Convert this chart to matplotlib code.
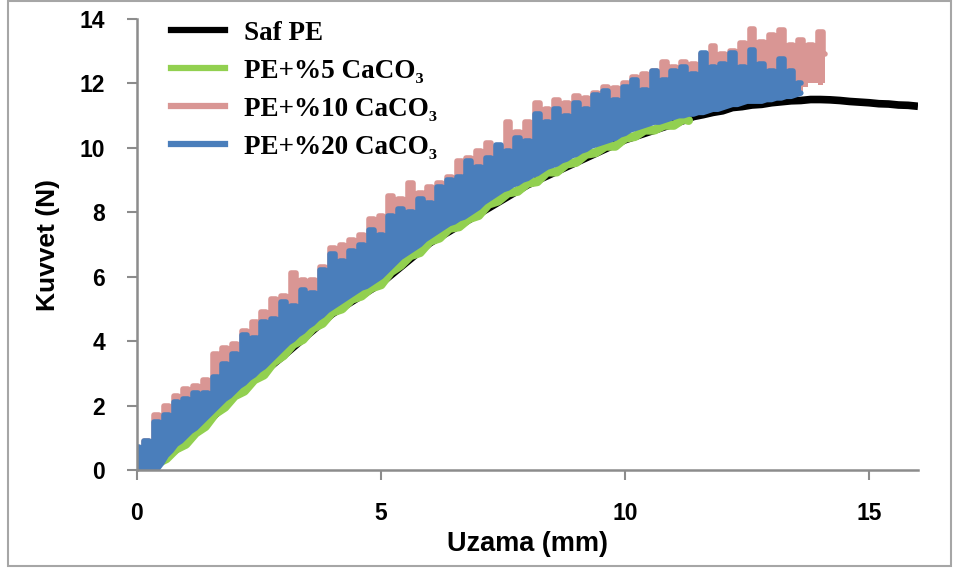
import matplotlib
matplotlib.use("Agg")
import matplotlib.pyplot as plt
from matplotlib.lines import Line2D
from matplotlib.patches import Rectangle

plt.rcParams['font.family'] = ['Liberation Sans', 'DejaVu Sans']

# Force-elongation readings taken off the curves (Uzama in mm, Kuvvet in N)

# Saf PE: only the tail past 11.3 mm shows, the rest runs under the green curve
saf_x = [0.2, 1.0, 2.0, 3.0, 4.0, 5.0, 6.0, 7.0, 8.0, 9.0, 10.0, 10.8, 11.2,
         11.4, 11.6, 11.8, 12.0, 12.2, 12.4, 12.6, 12.8, 13.0, 13.2, 13.4, 13.6,
         13.8, 14.0, 14.2, 14.4, 14.6, 14.8, 15.0, 15.2, 15.4, 15.6, 15.8, 16.0]
saf_y = [0.0, 0.85, 2.3, 3.55, 4.85, 5.8, 7.05, 7.95, 8.85, 9.55, 10.25, 10.65, 10.85,
         10.97, 11.03, 11.1, 11.15, 11.25, 11.28, 11.33, 11.35, 11.4, 11.43, 11.46, 11.47,
         11.5, 11.5, 11.49, 11.47, 11.44, 11.42, 11.4, 11.37, 11.36, 11.33, 11.32, 11.29]

# PE + %5 CaCO3
pe5_x = [0.2, 0.4, 0.6, 0.8, 1.0, 1.2, 1.4, 1.6, 1.8, 2.0, 2.2, 2.4, 2.6, 2.8, 3.0,
         3.2, 3.4, 3.6, 3.8, 4.0, 4.2, 4.4, 4.6, 4.8, 5.0, 5.2, 5.4, 5.6, 5.8, 6.0,
         6.2, 6.4, 6.6, 6.8, 7.0, 7.2, 7.4, 7.6, 7.8, 8.0, 8.2, 8.4, 8.6, 8.8, 9.0,
         9.2, 9.4, 9.6, 9.8, 10.0, 10.2, 10.4, 10.6, 10.8, 11.0, 11.2, 11.3]
pe5_y = [0.0, 0.2, 0.35, 0.65, 0.8, 1.15, 1.35, 1.75, 1.95, 2.3, 2.45, 2.8, 2.95, 3.35, 3.55,
         3.9, 4.05, 4.4, 4.55, 4.9, 5.0, 5.3, 5.4, 5.65, 5.75, 6.15, 6.35, 6.65, 6.75, 7.1,
         7.2, 7.5, 7.55, 7.8, 7.9, 8.25, 8.35, 8.6, 8.65, 8.9, 8.95, 9.25, 9.25, 9.5, 9.55,
         9.8, 9.85, 10.05, 10.05, 10.3, 10.35, 10.55, 10.55, 10.7, 10.7, 10.9, 10.85]

# sampling positions of the two noisy records (one row = 1 mm)
strain_x = [0.0, 0.1, 0.2, 0.3, 0.4, 0.5, 0.6, 0.7, 0.8, 0.9,
            1.0, 1.1, 1.2, 1.3, 1.4, 1.5, 1.6, 1.7, 1.8, 1.9,
            2.0, 2.1, 2.2, 2.3, 2.4, 2.5, 2.6, 2.7, 2.8, 2.9,
            3.0, 3.1, 3.2, 3.3, 3.4, 3.5, 3.6, 3.7, 3.8, 3.9,
            4.0, 4.1, 4.2, 4.3, 4.4, 4.5, 4.6, 4.7, 4.8, 4.9,
            5.0, 5.1, 5.2, 5.3, 5.4, 5.5, 5.6, 5.7, 5.8, 5.9,
            6.0, 6.1, 6.2, 6.3, 6.4, 6.5, 6.6, 6.7, 6.8, 6.9,
            7.0, 7.1, 7.2, 7.3, 7.4, 7.5, 7.6, 7.7, 7.8, 7.9,
            8.0, 8.1, 8.2, 8.3, 8.4, 8.5, 8.6, 8.7, 8.8, 8.9,
            9.0, 9.1, 9.2, 9.3, 9.4, 9.5, 9.6, 9.7, 9.8, 9.9,
            10.0, 10.1, 10.2, 10.3, 10.4, 10.5, 10.6, 10.7, 10.8, 10.9,
            11.0, 11.1, 11.2, 11.3, 11.4, 11.5, 11.6, 11.7, 11.8, 11.9,
            12.0, 12.1, 12.2, 12.3, 12.4, 12.5, 12.6, 12.7, 12.8, 12.9,
            13.0, 13.1, 13.2, 13.3, 13.4, 13.5, 13.6, 13.7, 13.8, 13.9,
            14.0, 14.1]

# PE + %20 CaCO3 (0.0 - 13.6 mm): upper (spiky) and lower edge of the trace
pe20_x = strain_x[:137]
pe20_top = [0.7, 0.1, 0.9, 0.6, 1.5, 0.5, 1.7, 1.4, 2.1, 1.85,
            2.2, 1.95, 2.4, 2.15, 2.4, 2.15, 2.9, 2.65, 3.3, 3.05,
            3.6, 3.35, 4.2, 3.85, 4.1, 3.85, 4.6, 4.35, 4.7, 4.45,
            5.2, 4.85, 5.1, 4.85, 5.6, 5.25, 5.5, 5.25, 6.2, 5.95,
            6.7, 6.25, 6.5, 6.25, 6.8, 6.55, 7.0, 6.75, 7.45, 7.05,
            7.3, 7.05, 7.9, 7.65, 8.1, 7.75, 8.0, 7.75, 8.4, 8.05,
            8.3, 8.05, 8.8, 8.55, 9.0, 8.75, 9.1, 8.85, 9.6, 9.15,
            9.4, 9.15, 9.7, 9.45, 10.1, 9.65, 9.9, 9.65, 10.3, 9.95,
            10.2, 9.9, 11.05, 10.55, 10.8, 10.55, 11.2, 10.75, 11.0, 10.75,
            11.4, 10.95, 11.2, 10.95, 11.65, 11.4, 11.75, 11.25, 11.5, 11.25,
            11.9, 11.65, 12.1, 11.55, 11.8, 11.55, 12.4, 11.85, 12.1, 11.85,
            12.4, 12.15, 12.5, 12.05, 12.3, 12.05, 12.95, 12.25, 12.5, 12.25,
            12.6, 12.35, 12.95, 12.25, 12.5, 12.25, 13.05, 12.35, 12.6, 12.15,
            12.4, 12.15, 12.75, 12.15, 12.4, 11.95, 12.0]
pe20_bot = [0.0, 0.0, 0.0, 0.0, 0.0, 0.2, 0.45, 0.6, 0.8, 0.9,
            1.05, 1.2, 1.3, 1.45, 1.6, 1.75, 1.9, 2.05, 2.2, 2.3,
            2.45, 2.6, 2.7, 2.85, 2.95, 3.1, 3.2, 3.35, 3.5, 3.65,
            3.8, 3.95, 4.05, 4.2, 4.3, 4.45, 4.55, 4.7, 4.8, 4.95,
            5.05, 5.15, 5.25, 5.35, 5.45, 5.55, 5.65, 5.7, 5.8, 5.9,
            6.0, 6.15, 6.3, 6.45, 6.6, 6.7, 6.8, 6.9, 7.0, 7.15,
            7.25, 7.35, 7.45, 7.55, 7.65, 7.7, 7.8, 7.85, 7.95, 8.05,
            8.15, 8.3, 8.4, 8.5, 8.6, 8.7, 8.75, 8.85, 8.9, 9.0,
            9.05, 9.15, 9.2, 9.3, 9.4, 9.45, 9.5, 9.6, 9.65, 9.75,
            9.8, 9.9, 9.95, 10.05, 10.1, 10.15, 10.2, 10.25, 10.3, 10.4,
            10.45, 10.55, 10.6, 10.65, 10.7, 10.75, 10.8, 10.8, 10.85, 10.9,
            10.95, 11.0, 11.0, 11.05, 11.05, 11.1, 11.1, 11.15, 11.2, 11.2,
            11.25, 11.3, 11.35, 11.35, 11.4, 11.45, 11.45, 11.45, 11.45, 11.5,
            11.5, 11.55, 11.55, 11.6, 11.6, 11.65, 11.7]

# PE + %10 CaCO3 (0.0 - 14.1 mm); its lower edge lies under the %20 trace
# up to 13.6 mm, only the last few readings of it are visible
pe10_x = strain_x
pe10_top = [0.5, 0.05, 0.9, 0.55, 1.7, 0.45, 2.0, 1.35, 2.3, 1.8,
            2.5, 1.9, 2.6, 2.1, 2.8, 2.1, 3.6, 2.6, 3.8, 3.0,
            3.9, 3.3, 4.3, 3.8, 4.6, 3.8, 4.9, 4.3, 5.3, 4.4,
            5.4, 4.8, 6.1, 4.8, 5.9, 5.2, 5.9, 5.2, 6.3, 5.9,
            6.9, 6.2, 7.0, 6.2, 7.15, 6.5, 7.3, 6.7, 7.8, 7.0,
            7.9, 7.0, 8.5, 7.6, 8.4, 7.7, 8.9, 7.7, 8.6, 8.0,
            8.8, 8.0, 8.9, 8.5, 9.1, 8.7, 9.6, 8.8, 9.7, 9.1,
            9.9, 9.1, 10.15, 9.4, 10.0, 9.6, 10.8, 9.6, 10.5, 9.9,
            10.8, 9.85, 11.4, 10.5, 11.2, 10.5, 11.5, 10.7, 11.4, 10.7,
            11.6, 10.9, 11.55, 10.9, 11.7, 11.35, 11.9, 11.2, 11.85, 11.2,
            12.0, 11.6, 12.2, 11.5, 12.3, 11.5, 12.4, 11.8, 12.65, 11.8,
            12.5, 12.1, 12.65, 12.0, 12.6, 12.0, 12.9, 12.2, 13.15, 12.2,
            12.9, 12.3, 13.0, 12.2, 13.25, 12.2, 13.7, 12.3, 13.3, 12.1,
            13.5, 12.1, 13.65, 12.1, 13.2, 11.9, 13.35, 13.0, 13.2, 12.95,
            13.6, 12.9]
pe10_tail_bot = [11.9, 12.0, 12.0, 11.95, 12.0]
pe10_bot = pe20_bot + pe10_tail_bot

series_labels = ['Saf PE', 'PE+%5 CaCO₃', 'PE+%10 CaCO₃', 'PE+%20 CaCO₃']
series_colors = ['#000000', '#92D050', '#D99694', '#4A7EBB']

x_ticks = [0, 5, 10, 15]
y_ticks = [0, 2, 4, 6, 8, 10, 12, 14]
axis_gray = '#8C8C8C'


def draw_noisy(ax, x, bot, top, color, z, edge_lw):
    """Trace that jumps up and down so fast it reads as a band with spikes."""
    ax.fill_between(x, bot, top, step='mid', color=color, lw=0, zorder=z)
    ax.plot(x, top, drawstyle='steps-mid', color=color, lw=4, zorder=z,
            solid_joinstyle='round', solid_capstyle='round')
    if edge_lw:
        ax.plot(x, bot, color=color, lw=edge_lw, zorder=z, solid_capstyle='round')


def main():
    fig = plt.figure(figsize=(9.6, 5.7), dpi=100)
    ax = fig.add_axes([0.1427, 0.1754, 0.8135, 0.7913])

    ax.plot(saf_x, saf_y, color=series_colors[0], lw=5.5, solid_capstyle='butt', zorder=2)
    ax.plot(pe5_x, pe5_y, color=series_colors[1], lw=6.5, solid_capstyle='round', zorder=3)
    draw_noisy(ax, pe10_x, pe10_bot, pe10_top, series_colors[2], 4, 0)
    draw_noisy(ax, pe20_x, pe20_bot, pe20_top, series_colors[3], 5, 4)

    ax.set_xlim(0, 16)
    ax.set_ylim(0, 14)
    ax.set_xticks(x_ticks)
    ax.set_yticks(y_ticks)
    for side in ['top', 'right']:
        ax.spines[side].set_visible(False)
    for side in ['left', 'bottom']:
        ax.spines[side].set_color(axis_gray)
        ax.spines[side].set_linewidth(1.8)
        ax.spines[side].set_zorder(6)
    ax.tick_params(direction='out', length=7, width=1.5, color=axis_gray,
                   labelsize=16.5, pad=16)
    for lbl in ax.get_xticklabels() + ax.get_yticklabels():
        lbl.set_fontweight('bold')

    ax.set_xlabel('Uzama (mm)', fontsize=19.5, fontweight='bold', labelpad=4)
    ax.set_ylabel('Kuvvet (N)', fontsize=19, fontweight='bold', labelpad=14)

    handles = [Line2D([], [], color=c, lw=4.5) for c in series_colors]
    ax.legend(handles, series_labels, loc='upper left', bbox_to_anchor=(0.03, 1.02),
              borderaxespad=0, frameon=False, handlelength=2.0, handletextpad=0.7,
              labelspacing=0.48, prop={'family': ['Liberation Serif', 'DejaVu Serif'],
                                       'weight': 'bold', 'size': 19.5})

    # light frame round the whole chart area
    fig.patches.append(Rectangle((0.0083, 0.007), 0.982, 0.991, transform=fig.transFigure,
                                 fill=False, edgecolor='#A6A6A6', lw=1.5))

    fig.savefig('out.png', dpi=100)


if __name__ == "__main__":
    main()
